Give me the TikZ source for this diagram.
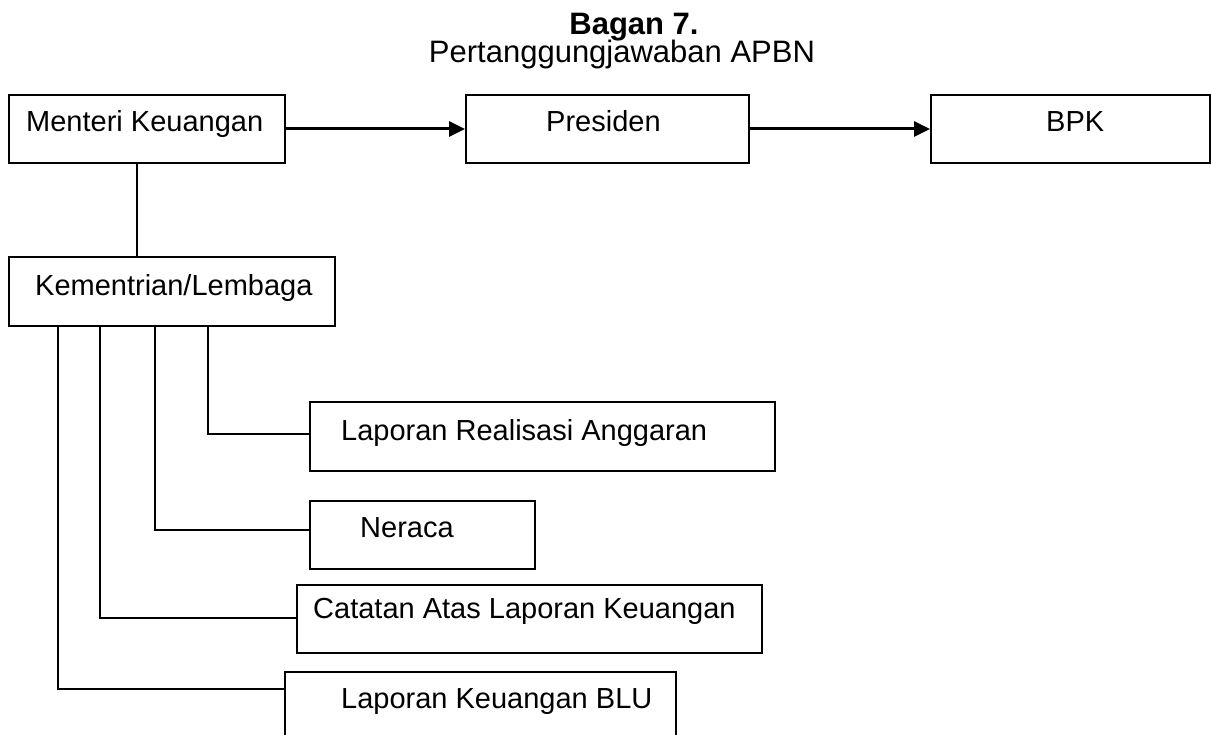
\documentclass[tikz,border=0pt]{standalone}
\usepackage{fontspec}
\setmainfont{Liberation Sans}
\usetikzlibrary{arrows.meta}
\begin{document}
\begin{tikzpicture}[x=1pt,y=-1pt,
  box/.style={draw=black,line width=2pt,rectangle,inner sep=0pt,minimum height=68pt},
  txt/.style={anchor=base west,inner sep=0pt,font=\fontsize{29}{34}\selectfont},
  conn/.style={draw=black,line width=2pt},
  arr/.style={draw=black,line width=3pt,-{Triangle[length=16pt,width=15pt]}}]
\useasboundingbox (0,0) rectangle (1211,735);
\fill[white] (0,0) rectangle (1211,735);
\clip (0,0) rectangle (1211,735);
% title
\node[anchor=base,inner sep=0pt,font=\fontsize{31}{36}\selectfont\bfseries] (t1) at (634,35) {Bagan 7.};
\node[anchor=base,inner sep=0pt,font=\fontsize{31}{36}\selectfont] (t2) at (622,63) {Pertanggungjawaban APBN};
% boxes
\node[box,minimum width=276pt] (mk) at (147,129) {};
\node[box,minimum width=283pt] (pr) at (607.5,129) {};
\node[box,minimum width=279pt] (bpk) at (1070.5,129) {};
\node[box,minimum width=326pt,minimum height=69pt] (kl) at (172,291.5) {};
\node[box,minimum width=465pt,minimum height=69pt] (lra) at (542.5,436.5) {};
\node[box,minimum width=225pt] (ner) at (422.5,535) {};
\node[box,minimum width=465pt] (cat) at (529.5,619) {};
\node[box,minimum width=391pt] (blu) at (480.5,706) {};
% texts
\node[txt] (mkt) at (26,132) {Menteri Keuangan};
\node[txt] (prt) at (546,132) {Presiden};
\node[txt] (bpkt) at (1046,132) {BPK};
\node[txt] (klt) at (35,296) {Kementrian/Lembaga};
\node[txt] (lrat) at (341,440) {Laporan Realisasi Anggaran};
\node[txt] (nert) at (360,537) {Neraca};
\node[txt] (catt) at (313,618) {Catatan Atas Laporan Keuangan};
\node[txt] (blut) at (341,708) {Laporan Keuangan BLU};
% connectors
\draw[arr] (mk.east) -- (pr.west);
\draw[arr] (pr.east) -- (bpk.west);
\draw[conn] ([xshift=-10pt]mk.south) -- ([xshift=-10pt]mk.south |- kl.north);
\draw[conn] ([xshift=36pt]kl.south) |- ([yshift=2.5pt]lra.west);
\draw[conn] ([xshift=-17pt]kl.south) |- ([yshift=5pt]ner.west);
\draw[conn] ([xshift=-72pt]kl.south) |- ([yshift=1pt]cat.west);
\draw[conn] ([xshift=-114pt]kl.south) |- ([yshift=17pt]blu.west);
\end{tikzpicture}
\end{document}
